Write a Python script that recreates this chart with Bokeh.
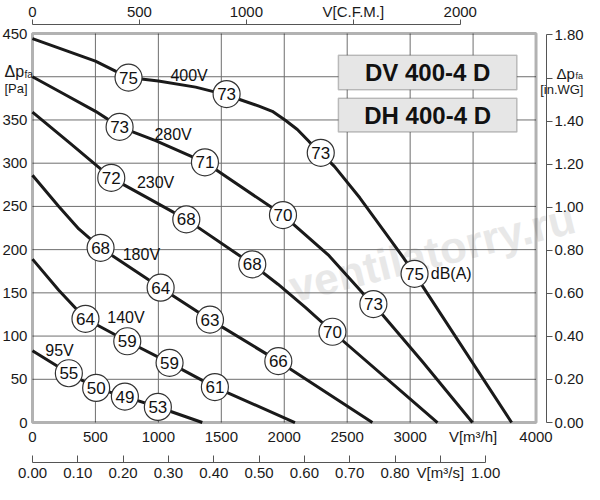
from bokeh.plotting import figure
from bokeh.models import (ColumnDataSource, LinearAxis, Range1d, FixedTicker,
                          Label, BoxAnnotation)
from bokeh.core.properties import value
from bokeh.embed import file_html
from bokeh.resources import INLINE

FONT = "Liberation Sans"

# fan curves, air flow [m3/h] against static pressure [Pa]
q_400 = [0, 500, 763, 1000, 1296, 1540, 1640, 1799, 1905, 2006, 2104, 2197, 2290,
         2400, 2600, 2800, 2950, 3035, 3806]
p_400 = [444, 418, 399, 395, 388, 379, 374, 366, 360, 350, 339, 325, 312,
         296, 260, 220, 190, 172, 0]
q_280 = [0, 250, 501, 692, 978, 1370, 1990, 2356, 2621, 2708, 3100, 3495]
p_280 = [400, 380, 360, 342, 326, 301, 240, 193, 150, 137, 70, 0]
q_230 = [0, 300, 626, 900, 1222, 1746, 1950, 2170, 2383, 3217]
p_230 = [359, 323, 283, 261, 235, 183, 160, 133, 105, 0]
q_180 = [0, 209, 368, 541, 1018, 1410, 1953, 2700]
p_180 = [286, 250, 224, 202, 156, 119, 71, 0]
q_140 = [0, 209, 421, 753, 1089, 1449, 2085]
p_140 = [189, 153, 120, 94, 69, 41, 0]
q_95 = [0, 289, 506, 734, 996, 1349]
p_95 = [83, 57, 40, 30, 18, 0]

# noise level points dB(A) on the curves
db_q = [763, 1542, 2290, 3035,
        692, 1370, 1990, 2708,
        626, 1222, 1746, 2383,
        541, 1018, 1410, 1953,
        421, 753, 1089, 1449,
        289, 506, 734, 996]
db_p = [399, 380, 312, 172,
        342, 301, 240, 137,
        283, 235, 183, 105,
        202, 156, 119, 71,
        120, 94, 69, 41,
        57, 40, 30, 18]
db_val = [75, 73, 73, 75,
          73, 71, 70, 73,
          72, 68, 68, 70,
          68, 64, 63, 66,
          64, 59, 59, 61,
          55, 50, 49, 53]

# voltage names and where they sit
volt_names = ["400V", "280V", "230V", "180V", "140V", "95V"]
volt_q = [1244, 1117, 978, 865, 743, 215]
volt_p = [402, 333, 278, 194, 121, 83]

# axis ticks and labels
q_ticks = [0, 500, 1000, 1500, 2000, 2500, 3000, 3500, 4000]
q_labels = ["0", "500", "1000", "1500", "2000", "2500", "3000", "V[m³/h]", "4000"]
pa_ticks = [0, 50, 100, 150, 200, 250, 300, 350, 400, 450]
pa_labels = ["0", "50", "100", "150", "200", "250", "300", "350", "", "450"]
cfm_ticks = [0, 500, 1000, 1500, 2000]
cfm_labels = ["0", "500", "1000", "V[C.F.M.]", "2000"]
ms_ticks = [0.0, 0.1, 0.2, 0.3, 0.4, 0.5, 0.6, 0.7, 0.8, 0.9, 1.0]
ms_labels = ["0.00", "0.10", "0.20", "0.30", "0.40", "0.50", "0.60", "0.70", "0.80", "V[m³/s]", "1.00"]
wg_ticks = [0.0, 0.2, 0.4, 0.6, 0.8, 1.0, 1.2, 1.4, 1.6, 1.8]
wg_labels = ["0.00", "0.20", "0.40", "0.60", "0.80", "1.00", "1.20", "1.40", "", "1.80"]

M3H_PER_CFM = 1.699
PA_PER_INWG = 249.089
M3H_PER_M3S = 3600

# the chart box is 0..4000 x 0..450; the frame fills the whole canvas and
# every axis is pinned at a fixed place so nothing gets clipped
Q_MAX, P_MAX = 4000, 450
X0, X1 = -254, 4385
Y0, Y1 = -71.7, 488.2
Y_CFM = 460.4      # top axis line
Y_MS = -46.3       # lower axis line
X_WG = 4083        # right axis line

p = figure(width=584, height=484, title=None,
           x_range=Range1d(X0, X1), y_range=Range1d(Y0, Y1),
           output_backend="svg", toolbar_location=None)
p.min_border = 0
p.outline_line_color = None
p.grid.visible = False

p.extra_x_ranges = {"cfm": Range1d(X0 / M3H_PER_CFM, X1 / M3H_PER_CFM),
                    "ms": Range1d(X0 / M3H_PER_M3S, X1 / M3H_PER_M3S)}
p.extra_y_ranges = {"inwg": Range1d(Y0 / PA_PER_INWG, Y1 / PA_PER_INWG)}


def style_axis(ax, size="15px"):
    ax.major_label_text_font = FONT
    ax.major_label_text_font_size = size
    ax.major_label_text_color = "#1a1a1a"
    ax.minor_tick_line_color = None
    ax.minor_tick_out = 0
    ax.minor_tick_in = 0


left = p.yaxis[0]
left.fixed_location = 0
left.ticker = FixedTicker(ticks=pa_ticks)
left.major_label_overrides = dict(zip(pa_ticks, pa_labels))
left.axis_line_color = None
left.major_tick_line_color = None
left.major_tick_in = 0
left.major_tick_out = 0
left.major_label_standoff = 5
style_axis(left)

bottom = p.xaxis[0]
bottom.fixed_location = 0
bottom.ticker = FixedTicker(ticks=q_ticks)
bottom.major_label_overrides = dict(zip(q_ticks, q_labels))
bottom.axis_line_color = None
bottom.major_tick_line_color = None
bottom.major_tick_in = 0
bottom.major_tick_out = 0
bottom.major_label_standoff = 5
style_axis(bottom)

top = LinearAxis(x_range_name="cfm", fixed_location=Y_CFM, ticker=FixedTicker(ticks=cfm_ticks),
                 major_label_overrides=dict(zip(cfm_ticks, cfm_labels)),
                 bounds=(0, 2000), axis_line_color="#555555", major_tick_line_color="#555555",
                 major_tick_in=0, major_tick_out=5, major_label_standoff=0)
style_axis(top)
p.add_layout(top, "above")

ms = LinearAxis(x_range_name="ms", fixed_location=Y_MS, ticker=FixedTicker(ticks=ms_ticks),
                major_label_overrides=dict(zip(ms_ticks, ms_labels)),
                bounds=(0, 1), axis_line_color="#555555", major_tick_line_color="#555555",
                major_tick_in=7, major_tick_out=0, major_label_standoff=1)
style_axis(ms)
p.add_layout(ms, "below")

wg = LinearAxis(y_range_name="inwg", fixed_location=X_WG, ticker=FixedTicker(ticks=wg_ticks),
                major_label_overrides=dict(zip(wg_ticks, wg_labels)),
                bounds=(0, 1.8), axis_line_color="#555555", major_tick_line_color="#555555",
                major_tick_in=0, major_tick_out=6, major_label_standoff=2)
style_axis(wg)
p.add_layout(wg, "right")

# watermark behind everything
p.add_layout(Label(x=3174, y=197, text="ventilatorry.ru", angle=0.244,
                   text_align="center", text_baseline="alphabetic",
                   text_font=FONT, text_font_size="44px", text_font_style="bold",
                   text_color="#e8e8e8", level="image"))

# grid inside the box
gq = q_ticks[1:-1]
gp = pa_ticks[1:-1]
p.segment(x0=gq, y0=[0] * len(gq), x1=gq, y1=[P_MAX] * len(gq),
          line_color="#6e6e6e", line_width=1)
p.segment(x0=[0] * len(gp), y0=gp, x1=[Q_MAX] * len(gp), y1=gp,
          line_color="#6e6e6e", line_width=1)

for q, pr in [(q_400, p_400), (q_280, p_280), (q_230, p_230),
              (q_180, p_180), (q_140, p_140), (q_95, p_95)]:
    p.line(q, pr, line_color="#1a1a1a", line_width=3, line_join="round")

p.add_layout(BoxAnnotation(left=0, right=Q_MAX, bottom=0, top=P_MAX,
                           fill_color=None, line_color="black", line_width=3))

src = ColumnDataSource(dict(q=db_q, p=db_p, txt=[str(d) for d in db_val]))
p.scatter("q", "p", source=src, marker="circle", size=27,
          fill_color="white", line_color="#333333", line_width=1.2)
p.text("q", "p", text="txt", source=src, text_align="center", text_baseline="middle",
       text_font=value(FONT), text_font_size="17px", text_color="#111111")

vsrc = ColumnDataSource(dict(q=volt_q, p=volt_p, txt=volt_names))
p.text("q", "p", text="txt", source=vsrc, text_align="center", text_baseline="middle",
       text_font=value(FONT), text_font_size="16px", text_color="#111111")
p.text([3164], [172], text=["dB(A)"], text_align="left", text_baseline="middle",
       text_font=value(FONT), text_font_size="16px", text_color="#111111")

# model name boxes
for top_y, bot_y, name in [(425, 385, "DV 400-4 D"), (375, 336, "DH 400-4 D")]:
    p.add_layout(BoxAnnotation(left=2430, right=3848, bottom=bot_y, top=top_y,
                               fill_color="#e6e6e6", fill_alpha=1,
                               line_color="#3c3c3c", line_width=1.5))
    p.add_layout(Label(x=3139, y=(top_y + bot_y) / 2, text=name,
                       text_align="center", text_baseline="middle",
                       text_font=FONT, text_font_size="24px", text_font_style="bold",
                       text_color="#111111"))

# axis titles beside the 400 Pa / 1.60 in.WG ticks
lbl = dict(text_font=FONT, text_color="#1a1a1a")
p.add_layout(Label(x=0, y=400, x_offset=-28, y_offset=5, text="Δp",
                   text_align="left", text_baseline="alphabetic", text_font_size="16px", **lbl))
p.add_layout(Label(x=0, y=400, x_offset=-8, y_offset=2, text="fa",
                   text_align="left", text_baseline="alphabetic", text_font_size="10px", **lbl))
p.add_layout(Label(x=0, y=400, x_offset=-28, y_offset=-12, text="[Pa]",
                   text_align="left", text_baseline="middle", text_font_size="13px", **lbl))
p.add_layout(Label(x=X_WG, y=1.6, y_range_name="inwg", x_offset=10, y_offset=5, text="Δp",
                   text_align="left", text_baseline="alphabetic", text_font_size="15px", **lbl))
p.add_layout(Label(x=X_WG, y=1.6, y_range_name="inwg", x_offset=29, y_offset=2, text="fa",
                   text_align="left", text_baseline="alphabetic", text_font_size="9px", **lbl))
p.add_layout(Label(x=X_WG, y=1.6, y_range_name="inwg", x_offset=37, y_offset=-11, text="[in.WG]",
                   text_align="right", text_baseline="middle", text_font_size="13px", **lbl))

open("out.html", "w").write(file_html(p, INLINE))
